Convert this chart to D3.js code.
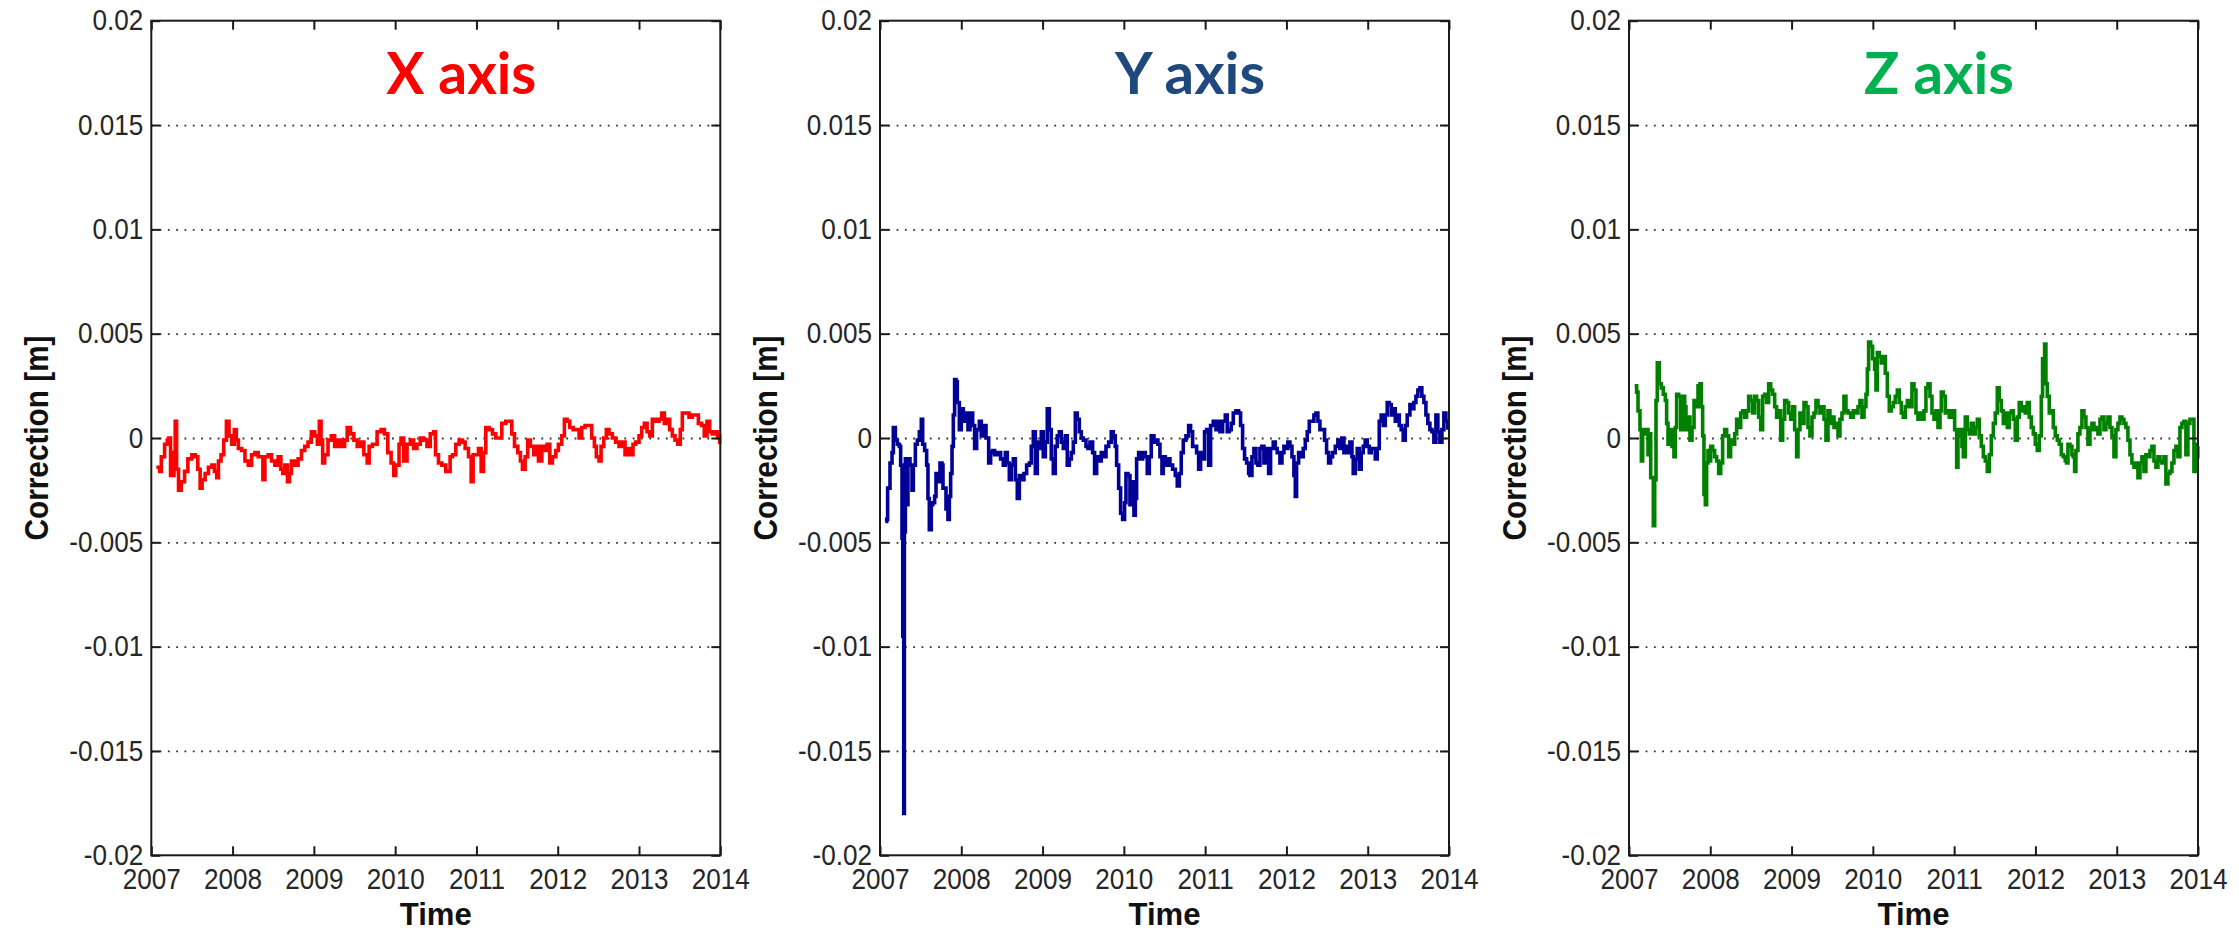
<!DOCTYPE html>
<html>
<head>
<meta charset="utf-8">
<script src="https://cdn.jsdelivr.net/npm/d3@7"></script>
<style>
  body { margin: 0; background: #fff; }
  text { font-family: "Liberation Sans", Arial, sans-serif; }
</style>
</head>
<body>
<svg id="chart" width="2239" height="931"></svg>
<script>
// tick values
const yearTicks = [2007, 2008, 2009, 2010, 2011, 2012, 2013, 2014];
const corrTicks = [-0.02, -0.015, -0.01, -0.005, 0, 0.005, 0.01, 0.015, 0.02];
const panelTitles = ["X axis", "Y axis", "Z axis"];

// [time (decimal year), correction (m)]
const xAxisSeries = [
  [2007.062,-1.4e-3],[2007.103,-1.6e-3],[2007.123,-0.9e-3],[2007.164,-0.3e-3],[2007.196,-0.1e-3],[2007.213,0.0],
  [2007.237,-1.8e-3],[2007.278,-0.7e-3],[2007.294,0.8e-3],[2007.311,-1.5e-3],[2007.335,-2.5e-3],[2007.368,-2.1e-3],
  [2007.409,-1.6e-3],[2007.450,-1.0e-3],[2007.499,-0.8e-3],[2007.540,-0.9e-3],[2007.572,-1.5e-3],[2007.601,-2.4e-3],
  [2007.625,-2.0e-3],[2007.662,-1.7e-3],[2007.703,-1.4e-3],[2007.744,-1.3e-3],[2007.777,-1.6e-3],[2007.805,-1.9e-3],
  [2007.826,-1.1e-3],[2007.858,-0.8e-3],[2007.891,-0.1e-3],[2007.924,0.8e-3],[2007.956,0.1e-3],[2007.989,-0.3e-3],
  [2008.022,0.4e-3],[2008.046,-0.1e-3],[2008.071,-0.5e-3],[2008.111,-0.6e-3],[2008.152,-1.1e-3],[2008.193,-1.3e-3],
  [2008.234,-0.8e-3],[2008.275,-0.7e-3],[2008.316,-0.9e-3],[2008.373,-2.0e-3],[2008.397,-0.9e-3],[2008.438,-0.8e-3],
  [2008.479,-1.1e-3],[2008.520,-1.3e-3],[2008.561,-0.9e-3],[2008.594,-1.5e-3],[2008.618,-1.7e-3],[2008.643,-1.3e-3],
  [2008.675,-2.1e-3],[2008.700,-1.7e-3],[2008.724,-1.1e-3],[2008.765,-1.3e-3],[2008.806,-1.0e-3],[2008.847,-0.6e-3],
  [2008.888,-0.4e-3],[2008.928,-0.2e-3],[2008.969,0.3e-3],[2009.010,0.1e-3],[2009.043,-0.3e-3],[2009.067,0.8e-3],
  [2009.088,-0.1e-3],[2009.108,-1.2e-3],[2009.133,-0.8e-3],[2009.174,-0.1e-3],[2009.214,0.1e-3],[2009.255,-0.4e-3],
  [2009.296,-0.1e-3],[2009.337,-0.4e-3],[2009.378,-0.1e-3],[2009.410,0.5e-3],[2009.451,0.2e-3],[2009.492,-0.1e-3],
  [2009.533,-0.4e-3],[2009.574,-0.2e-3],[2009.615,-0.8e-3],[2009.656,-1.2e-3],[2009.680,-0.4e-3],[2009.721,-0.3e-3],
  [2009.778,0.3e-3],[2009.827,0.4e-3],[2009.868,0.2e-3],[2009.909,-0.7e-3],[2009.950,-1.2e-3],[2009.982,-1.8e-3],
  [2010.007,-1.3e-3],[2010.048,-0.3e-3],[2010.072,0.0],[2010.105,-1.1e-3],[2010.146,-0.3e-3],[2010.187,-0.1e-3],
  [2010.227,-0.5e-3],[2010.268,-0.3e-3],[2010.309,0.0],[2010.350,-0.1e-3],[2010.391,-0.4e-3],[2010.432,0.2e-3],
  [2010.472,0.3e-3],[2010.497,-0.8e-3],[2010.533,-1.2e-3],[2010.574,-1.3e-3],[2010.623,-1.6e-3],[2010.656,-1.6e-3],
  [2010.676,-0.9e-3],[2010.705,-0.8e-3],[2010.746,-0.3e-3],[2010.787,-0.1e-3],[2010.828,-0.2e-3],[2010.861,-0.5e-3],
  [2010.902,-0.9e-3],[2010.935,-2.1e-3],[2010.959,-0.8e-3],[2010.992,-0.8e-3],[2011.025,-0.5e-3],[2011.058,-1.6e-3],
  [2011.086,-0.7e-3],[2011.115,0.5e-3],[2011.156,0.4e-3],[2011.197,0.2e-3],[2011.238,0.0],[2011.271,0.0],
  [2011.312,0.7e-3],[2011.361,0.8e-3],[2011.410,0.8e-3],[2011.435,0.2e-3],[2011.468,-0.4e-3],[2011.509,-0.7e-3],
  [2011.541,-1.1e-3],[2011.566,-1.5e-3],[2011.599,-0.9e-3],[2011.631,-0.1e-3],[2011.664,-0.4e-3],[2011.705,-0.8e-3],
  [2011.738,-0.4e-3],[2011.763,-1.1e-3],[2011.804,-0.4e-3],[2011.844,-0.6e-3],[2011.869,-0.3e-3],[2011.902,-1.2e-3],
  [2011.935,-0.9e-3],[2011.976,-0.6e-3],[2012.008,-0.3e-3],[2012.049,0.1e-3],[2012.082,0.9e-3],[2012.115,0.8e-3],
  [2012.148,0.5e-3],[2012.189,0.4e-3],[2012.230,0.4e-3],[2012.263,0.0],[2012.295,0.5e-3],[2012.336,0.6e-3],
  [2012.377,0.6e-3],[2012.418,0.0],[2012.451,-0.4e-3],[2012.475,-0.9e-3],[2012.508,-1.1e-3],[2012.533,-0.4e-3],
  [2012.566,0.0],[2012.598,0.4e-3],[2012.631,0.2e-3],[2012.672,0.0],[2012.713,-0.2e-3],[2012.754,-0.4e-3],
  [2012.795,-0.2e-3],[2012.828,-0.8e-3],[2012.861,-0.5e-3],[2012.894,-0.8e-3],[2012.926,-0.3e-3],[2012.959,-0.2e-3],
  [2013.000,0.1e-3],[2013.033,0.5e-3],[2013.066,0.7e-3],[2013.099,0.3e-3],[2013.132,0.1e-3],[2013.164,0.9e-3],
  [2013.205,0.8e-3],[2013.246,0.9e-3],[2013.279,1.2e-3],[2013.312,0.7e-3],[2013.344,0.9e-3],[2013.377,0.4e-3],
  [2013.410,0.1e-3],[2013.443,-0.1e-3],[2013.476,-0.3e-3],[2013.508,0.4e-3],[2013.533,1.2e-3],[2013.574,1.2e-3],
  [2013.615,1.0e-3],[2013.656,1.1e-3],[2013.697,1.1e-3],[2013.730,0.7e-3],[2013.770,0.6e-3],[2013.803,0.1e-3],
  [2013.836,0.8e-3],[2013.869,0.3e-3],[2013.902,0.2e-3],[2013.934,0.3e-3],[2013.967,0.1e-3],[2013.992,-0.3e-3]
];

const yAxisSeries = [
  [2007.066,-4.0e-3],[2007.082,-3.9e-3],[2007.094,-2.4e-3],[2007.123,-1.2e-3],[2007.148,-0.7e-3],[2007.164,0.5e-3],
  [2007.189,-0.1e-3],[2007.213,-0.3e-3],[2007.238,-0.4e-3],[2007.254,-1.3e-3],[2007.271,-4.8e-3],[2007.280,-9.5e-3],
  [2007.292,-18.0e-3],[2007.300,-4.5e-3],[2007.312,-1.0e-3],[2007.328,-3.2e-3],[2007.344,-1.0e-3],[2007.369,-1.3e-3],
  [2007.394,-2.5e-3],[2007.410,-1.3e-3],[2007.435,-0.3e-3],[2007.459,-0.1e-3],[2007.484,0.3e-3],[2007.508,0.9e-3],
  [2007.525,-0.3e-3],[2007.549,-0.6e-3],[2007.574,-1.3e-3],[2007.590,-2.9e-3],[2007.607,-4.4e-3],[2007.631,-3.2e-3],
  [2007.648,-3.1e-3],[2007.672,-2.8e-3],[2007.689,-1.7e-3],[2007.713,-2.1e-3],[2007.738,-1.2e-3],[2007.763,-1.3e-3],
  [2007.775,-2.4e-3],[2007.812,-3.4e-3],[2007.836,-3.9e-3],[2007.853,-2.8e-3],[2007.869,-1.7e-3],[2007.886,-0.4e-3],
  [2007.902,1.1e-3],[2007.918,2.8e-3],[2007.935,2.7e-3],[2007.951,1.7e-3],[2007.976,0.4e-3],[2008.000,1.4e-3],
  [2008.025,0.8e-3],[2008.058,1.2e-3],[2008.082,0.4e-3],[2008.107,1.2e-3],[2008.140,0.6e-3],[2008.164,-0.5e-3],
  [2008.189,0.4e-3],[2008.222,0.8e-3],[2008.246,0.1e-3],[2008.271,0.6e-3],[2008.304,0.0],[2008.337,-1.2e-3],
  [2008.361,-0.7e-3],[2008.386,-0.6e-3],[2008.410,-0.8e-3],[2008.451,-0.7e-3],[2008.484,-1.0e-3],[2008.517,-1.3e-3],
  [2008.542,-0.7e-3],[2008.566,-1.2e-3],[2008.591,-2.0e-3],[2008.615,-1.3e-3],[2008.640,-1.0e-3],[2008.665,-2.0e-3],
  [2008.689,-2.9e-3],[2008.714,-1.8e-3],[2008.738,-2.0e-3],[2008.771,-1.7e-3],[2008.804,-1.3e-3],[2008.837,-1.2e-3],
  [2008.861,-0.4e-3],[2008.886,0.3e-3],[2008.911,-1.7e-3],[2008.935,-0.2e-3],[2008.960,-0.5e-3],[2008.984,0.3e-3],
  [2009.009,-0.9e-3],[2009.034,-0.2e-3],[2009.058,1.4e-3],[2009.083,0.4e-3],[2009.107,-1.0e-3],[2009.132,-1.7e-3],
  [2009.156,-0.4e-3],[2009.181,0.1e-3],[2009.206,0.3e-3],[2009.230,-0.2e-3],[2009.255,-0.5e-3],[2009.280,0.1e-3],
  [2009.304,-1.3e-3],[2009.329,-1.0e-3],[2009.353,-0.7e-3],[2009.378,-0.2e-3],[2009.403,1.2e-3],[2009.427,0.9e-3],
  [2009.452,0.3e-3],[2009.476,0.0],[2009.501,-0.1e-3],[2009.534,-0.4e-3],[2009.558,-0.5e-3],[2009.583,-0.2e-3],
  [2009.616,-0.7e-3],[2009.640,-1.7e-3],[2009.665,-0.9e-3],[2009.690,-1.1e-3],[2009.722,-0.7e-3],[2009.755,-0.9e-3],
  [2009.780,-0.4e-3],[2009.813,-0.2e-3],[2009.845,0.3e-3],[2009.870,0.1e-3],[2009.894,-0.4e-3],[2009.911,-1.3e-3],
  [2009.936,-2.4e-3],[2009.960,-3.6e-3],[2009.985,-3.9e-3],[2010.009,-3.1e-3],[2010.026,-1.7e-3],[2010.050,-1.8e-3],
  [2010.075,-3.2e-3],[2010.100,-2.1e-3],[2010.124,-3.7e-3],[2010.141,-2.9e-3],[2010.157,-1.0e-3],[2010.182,-0.7e-3],
  [2010.206,-1.0e-3],[2010.231,-0.7e-3],[2010.264,-0.9e-3],[2010.288,-1.7e-3],[2010.313,-0.9e-3],[2010.337,0.1e-3],
  [2010.370,-0.2e-3],[2010.395,-0.1e-3],[2010.419,-0.3e-3],[2010.444,-0.9e-3],[2010.469,-1.7e-3],[2010.485,-0.9e-3],
  [2010.510,-1.3e-3],[2010.534,-1.0e-3],[2010.567,-1.3e-3],[2010.600,-1.5e-3],[2010.633,-1.8e-3],[2010.657,-2.3e-3],
  [2010.682,-1.7e-3],[2010.706,-0.7e-3],[2010.731,-0.1e-3],[2010.764,0.1e-3],[2010.797,0.6e-3],[2010.821,0.3e-3],
  [2010.846,-0.4e-3],[2010.870,-0.4e-3],[2010.895,-0.7e-3],[2010.920,-1.5e-3],[2010.944,-0.7e-3],[2010.969,-1.0e-3],
  [2010.993,0.3e-3],[2011.018,0.4e-3],[2011.043,-1.3e-3],[2011.067,0.6e-3],[2011.100,0.8e-3],[2011.133,0.4e-3],
  [2011.157,0.8e-3],[2011.182,0.3e-3],[2011.215,0.8e-3],[2011.248,1.1e-3],[2011.272,0.3e-3],[2011.297,0.4e-3],
  [2011.321,0.7e-3],[2011.346,1.2e-3],[2011.379,1.3e-3],[2011.412,1.2e-3],[2011.436,0.6e-3],[2011.461,-0.5e-3],
  [2011.485,-1.0e-3],[2011.510,-1.2e-3],[2011.535,-1.7e-3],[2011.551,-1.8e-3],[2011.576,-0.9e-3],[2011.600,-0.5e-3],
  [2011.625,-1.2e-3],[2011.649,-1.3e-3],[2011.674,-0.5e-3],[2011.698,-0.4e-3],[2011.723,-1.2e-3],[2011.748,-0.5e-3],
  [2011.781,-1.7e-3],[2011.805,-0.5e-3],[2011.838,-0.2e-3],[2011.863,-0.5e-3],[2011.887,-0.7e-3],[2011.920,-1.2e-3],
  [2011.945,-0.7e-3],[2011.969,-0.4e-3],[2011.994,-0.5e-3],[2012.018,-0.2e-3],[2012.043,-0.4e-3],[2012.068,-0.9e-3],
  [2012.092,-1.8e-3],[2012.109,-2.8e-3],[2012.125,-1.2e-3],[2012.150,-0.7e-3],[2012.182,-0.9e-3],[2012.207,-0.5e-3],
  [2012.232,-0.1e-3],[2012.256,0.3e-3],[2012.281,0.8e-3],[2012.314,0.8e-3],[2012.338,1.1e-3],[2012.363,1.2e-3],
  [2012.387,0.8e-3],[2012.412,0.4e-3],[2012.445,0.4e-3],[2012.469,-0.1e-3],[2012.494,-0.7e-3],[2012.519,-1.2e-3],
  [2012.543,-0.9e-3],[2012.568,-0.7e-3],[2012.601,-0.4e-3],[2012.633,-0.1e-3],[2012.658,-0.5e-3],[2012.682,0.0],
  [2012.707,-0.7e-3],[2012.732,-0.4e-3],[2012.756,-0.7e-3],[2012.781,-0.2e-3],[2012.806,-0.9e-3],[2012.822,-1.7e-3],
  [2012.847,-1.0e-3],[2012.871,-0.5e-3],[2012.896,-1.5e-3],[2012.920,-0.7e-3],[2012.945,-0.4e-3],[2012.969,-0.1e-3],
  [2012.994,-0.4e-3],[2013.019,-0.7e-3],[2013.043,-0.5e-3],[2013.093,-1.0e-3],[2013.117,-0.5e-3],[2013.142,0.8e-3],
  [2013.166,1.1e-3],[2013.191,0.6e-3],[2013.216,1.1e-3],[2013.240,1.7e-3],[2013.265,1.6e-3],[2013.289,1.1e-3],
  [2013.314,1.4e-3],[2013.339,0.8e-3],[2013.363,1.1e-3],[2013.388,0.6e-3],[2013.412,0.4e-3],[2013.437,-0.1e-3],
  [2013.462,0.6e-3],[2013.486,1.1e-3],[2013.519,1.6e-3],[2013.544,1.4e-3],[2013.568,1.7e-3],[2013.593,2.0e-3],
  [2013.617,2.3e-3],[2013.642,2.4e-3],[2013.666,2.0e-3],[2013.691,1.7e-3],[2013.716,1.1e-3],[2013.740,0.7e-3],
  [2013.765,0.4e-3],[2013.790,0.3e-3],[2013.814,-0.2e-3],[2013.839,1.1e-3],[2013.863,0.3e-3],[2013.888,-0.2e-3],
  [2013.913,0.4e-3],[2013.937,1.2e-3],[2013.962,0.8e-3],[2013.986,0.4e-3]
];

const zAxisSeries = [
  [2007.070,2.5e-3],[2007.094,2.2e-3],[2007.111,1.3e-3],[2007.135,0.4e-3],[2007.152,-1.1e-3],[2007.168,0.4e-3],
  [2007.193,0.2e-3],[2007.217,0.4e-3],[2007.234,-0.8e-3],[2007.250,0.2e-3],[2007.267,-1.9e-3],[2007.299,-4.2e-3],
  [2007.316,-2.0e-3],[2007.332,1.8e-3],[2007.348,3.6e-3],[2007.373,2.6e-3],[2007.398,2.4e-3],[2007.422,2.1e-3],
  [2007.447,1.8e-3],[2007.463,0.7e-3],[2007.480,-0.3e-3],[2007.504,0.4e-3],[2007.529,-0.4e-3],[2007.553,-0.9e-3],
  [2007.570,0.5e-3],[2007.586,2.1e-3],[2007.611,2.0e-3],[2007.636,0.4e-3],[2007.660,2.0e-3],[2007.685,1.5e-3],
  [2007.701,0.4e-3],[2007.726,1.0e-3],[2007.750,-0.1e-3],[2007.775,0.5e-3],[2007.800,1.8e-3],[2007.824,1.5e-3],
  [2007.849,2.5e-3],[2007.873,2.6e-3],[2007.890,1.5e-3],[2007.906,0.1e-3],[2007.922,-2.7e-3],[2007.939,-3.2e-3],
  [2007.955,-1.2e-3],[2007.972,-0.6e-3],[2007.988,-1.1e-3],[2008.005,-0.4e-3],[2008.029,-0.6e-3],[2008.054,-0.9e-3],
  [2008.078,-1.1e-3],[2008.103,-1.7e-3],[2008.128,-1.2e-3],[2008.152,0.1e-3],[2008.177,0.4e-3],[2008.201,0.1e-3],
  [2008.226,-0.9e-3],[2008.250,-0.1e-3],[2008.275,-0.3e-3],[2008.300,0.2e-3],[2008.324,0.9e-3],[2008.349,0.5e-3],
  [2008.374,1.2e-3],[2008.398,1.3e-3],[2008.423,1.0e-3],[2008.447,1.3e-3],[2008.472,2.0e-3],[2008.496,1.8e-3],
  [2008.521,1.2e-3],[2008.546,2.0e-3],[2008.570,1.8e-3],[2008.595,1.0e-3],[2008.620,0.4e-3],[2008.644,2.0e-3],
  [2008.669,2.1e-3],[2008.693,1.7e-3],[2008.718,2.6e-3],[2008.743,2.3e-3],[2008.767,2.1e-3],[2008.792,1.5e-3],
  [2008.816,1.0e-3],[2008.841,1.3e-3],[2008.866,-0.1e-3],[2008.890,0.9e-3],[2008.915,1.8e-3],[2008.939,1.7e-3],
  [2008.964,1.2e-3],[2008.989,0.9e-3],[2009.013,1.5e-3],[2009.038,0.4e-3],[2009.062,-0.9e-3],[2009.079,0.4e-3],
  [2009.103,1.2e-3],[2009.128,0.7e-3],[2009.153,1.7e-3],[2009.177,1.5e-3],[2009.202,0.5e-3],[2009.226,0.1e-3],
  [2009.251,1.0e-3],[2009.276,1.2e-3],[2009.300,1.8e-3],[2009.325,1.5e-3],[2009.349,1.2e-3],[2009.374,1.5e-3],
  [2009.399,0.9e-3],[2009.423,-0.1e-3],[2009.448,1.3e-3],[2009.472,0.7e-3],[2009.497,1.0e-3],[2009.522,0.5e-3],
  [2009.546,0.7e-3],[2009.571,0.1e-3],[2009.595,0.9e-3],[2009.620,1.2e-3],[2009.644,2.0e-3],[2009.669,1.3e-3],
  [2009.694,1.2e-3],[2009.727,1.0e-3],[2009.759,1.3e-3],[2009.792,1.2e-3],[2009.817,1.5e-3],[2009.841,1.8e-3],
  [2009.866,1.0e-3],[2009.891,1.5e-3],[2009.915,2.1e-3],[2009.932,3.3e-3],[2009.948,4.6e-3],[2009.973,4.4e-3],
  [2009.997,3.8e-3],[2010.022,3.3e-3],[2010.038,2.3e-3],[2010.055,4.1e-3],[2010.079,3.9e-3],[2010.104,3.6e-3],
  [2010.128,3.9e-3],[2010.153,3.1e-3],[2010.178,2.0e-3],[2010.202,1.3e-3],[2010.227,1.5e-3],[2010.251,1.7e-3],
  [2010.276,2.0e-3],[2010.301,2.3e-3],[2010.325,1.7e-3],[2010.350,1.2e-3],[2010.374,1.0e-3],[2010.399,1.5e-3],
  [2010.424,1.8e-3],[2010.457,1.5e-3],[2010.481,2.6e-3],[2010.506,2.3e-3],[2010.530,1.2e-3],[2010.555,0.9e-3],
  [2010.580,1.2e-3],[2010.604,0.9e-3],[2010.629,1.3e-3],[2010.653,2.4e-3],[2010.678,2.6e-3],[2010.703,2.0e-3],
  [2010.727,1.2e-3],[2010.752,0.9e-3],[2010.776,1.3e-3],[2010.801,0.5e-3],[2010.826,1.3e-3],[2010.842,2.2e-3],
  [2010.867,2.0e-3],[2010.891,1.2e-3],[2010.916,1.3e-3],[2010.940,1.0e-3],[2010.965,1.3e-3],[2011.006,0.4e-3],
  [2011.031,-1.4e-3],[2011.047,0.1e-3],[2011.072,0.4e-3],[2011.096,-0.4e-3],[2011.113,-0.9e-3],[2011.137,1.0e-3],
  [2011.162,0.4e-3],[2011.186,0.2e-3],[2011.211,0.7e-3],[2011.236,0.2e-3],[2011.260,0.5e-3],[2011.285,0.9e-3],
  [2011.309,0.1e-3],[2011.334,-0.4e-3],[2011.359,-0.9e-3],[2011.383,-1.1e-3],[2011.408,-1.6e-3],[2011.432,-0.8e-3],
  [2011.457,0.1e-3],[2011.482,0.7e-3],[2011.506,1.2e-3],[2011.531,2.4e-3],[2011.555,1.8e-3],[2011.580,1.3e-3],
  [2011.605,0.7e-3],[2011.629,1.2e-3],[2011.654,0.5e-3],[2011.678,1.2e-3],[2011.703,1.3e-3],[2011.728,0.9e-3],
  [2011.752,-0.1e-3],[2011.777,1.0e-3],[2011.801,1.7e-3],[2011.826,1.3e-3],[2011.851,1.5e-3],[2011.875,1.2e-3],
  [2011.900,1.7e-3],[2011.924,1.0e-3],[2011.949,0.5e-3],[2011.974,0.2e-3],[2011.998,-0.3e-3],[2012.023,-0.6e-3],
  [2012.047,0.1e-3],[2012.072,2.0e-3],[2012.088,3.8e-3],[2012.113,4.5e-3],[2012.129,2.6e-3],[2012.146,2.0e-3],
  [2012.170,1.2e-3],[2012.195,1.3e-3],[2012.220,0.5e-3],[2012.244,0.1e-3],[2012.269,-0.1e-3],[2012.293,-0.3e-3],
  [2012.318,-0.8e-3],[2012.343,-0.9e-3],[2012.367,-1.1e-3],[2012.384,-1.2e-3],[2012.400,-0.3e-3],[2012.425,-0.4e-3],
  [2012.449,-0.8e-3],[2012.465,-0.9e-3],[2012.482,-1.6e-3],[2012.498,-0.6e-3],[2012.523,0.2e-3],[2012.547,0.5e-3],
  [2012.572,1.3e-3],[2012.597,1.0e-3],[2012.621,0.5e-3],[2012.646,-0.3e-3],[2012.671,0.4e-3],[2012.695,0.7e-3],
  [2012.720,0.4e-3],[2012.744,0.5e-3],[2012.769,0.2e-3],[2012.794,0.9e-3],[2012.818,1.0e-3],[2012.843,0.4e-3],
  [2012.867,0.7e-3],[2012.892,1.0e-3],[2012.917,0.5e-3],[2012.941,0.1e-3],[2012.966,-0.9e-3],[2012.990,0.4e-3],
  [2013.015,0.7e-3],[2013.040,1.0e-3],[2013.064,0.9e-3],[2013.089,0.7e-3],[2013.113,0.5e-3],[2013.138,-0.1e-3],
  [2013.163,-0.8e-3],[2013.187,-1.2e-3],[2013.212,-1.4e-3],[2013.236,-1.2e-3],[2013.261,-1.9e-3],[2013.286,-1.2e-3],
  [2013.310,-0.9e-3],[2013.335,-1.6e-3],[2013.359,-0.8e-3],[2013.384,-0.9e-3],[2013.409,-0.6e-3],[2013.433,-0.4e-3],
  [2013.458,-1.1e-3],[2013.482,-1.4e-3],[2013.507,-0.9e-3],[2013.532,-1.1e-3],[2013.556,-1.2e-3],[2013.581,-0.9e-3],
  [2013.605,-2.2e-3],[2013.630,-1.7e-3],[2013.655,-1.6e-3],[2013.679,-1.2e-3],[2013.704,-0.6e-3],[2013.728,-0.4e-3],
  [2013.753,-0.9e-3],[2013.778,0.5e-3],[2013.802,0.7e-3],[2013.827,0.8e-3],[2013.851,-0.8e-3],[2013.876,0.7e-3],
  [2013.901,0.9e-3],[2013.925,0.9e-3],[2013.950,-1.6e-3],[2013.966,-0.3e-3],[2013.982,-0.9e-3],[2013.998,-0.4e-3]
];

const panels = [
  { title: panelTitles[0], titleColor: "#ff0000", lineColor: "#ff0000", data: xAxisSeries, left: 151.3 },
  { title: panelTitles[1], titleColor: "#1f497d", lineColor: "#000096", data: yAxisSeries, left: 880 },
  { title: panelTitles[2], titleColor: "#00b050", lineColor: "#008000", data: zAxisSeries, left: 1629 }
];

const plotW = 569, plotTop = 20.7, plotBottom = 855.3;
const squeeze = 0.9; // tick labels look narrower than Arial

const svg = d3.select("#chart");
svg.append("rect").attr("width", 2239).attr("height", 931).attr("fill", "#fff");

const fmt = d => String(+d.toFixed(4));

panels.forEach(p => {
  const x = d3.scaleLinear().domain([2007, 2014]).range([p.left, p.left + plotW]);
  const y = d3.scaleLinear().domain([-0.02, 0.02]).range([plotBottom, plotTop]);
  const g = svg.append("g");

  // dotted grid lines
  g.append("g")
    .attr("transform", `translate(${p.left},0)`)
    .call(d3.axisLeft(y).tickValues(corrTicks.slice(1, -1)).tickSize(-plotW).tickFormat(""))
    .call(a => a.select(".domain").remove())
    .selectAll("line")
    .attr("stroke", "#333")
    .attr("stroke-width", 1.8)
    .attr("stroke-dasharray", "1.8 6.5");

  // the series
  const line = d3.line()
    .x(d => x(d[0]))
    .y(d => y(d[1]))
    .curve(d3.curveStepAfter);

  g.append("path")
    .datum(p.data)
    .attr("fill", "none")
    .attr("stroke", p.lineColor)
    .attr("stroke-width", 3.6)
    .attr("d", line);

  // box
  g.append("rect")
    .attr("x", p.left).attr("y", plotTop)
    .attr("width", plotW).attr("height", plotBottom - plotTop)
    .attr("fill", "none")
    .attr("stroke", "#1a1a1a")
    .attr("stroke-width", 2);

  // left axis with labels
  const yAx = g.append("g")
    .attr("transform", `translate(${p.left},0)`)
    .call(d3.axisLeft(y).tickValues(corrTicks).tickSize(-9).tickPadding(8).tickSizeOuter(0).tickFormat(fmt));
  yAx.select(".domain").remove();
  yAx.selectAll("line").attr("stroke", "#1a1a1a").attr("stroke-width", 2);
  yAx.selectAll("text")
    .attr("font-size", 29)
    .attr("fill", "#262626")
    .attr("x", -8 / squeeze)
    .attr("transform", `scale(${squeeze},1)`);

  // right ticks
  const yR = g.append("g")
    .attr("transform", `translate(${p.left + plotW},0)`)
    .call(d3.axisRight(y).tickValues(corrTicks).tickSize(-9).tickSizeOuter(0).tickFormat(""));
  yR.select(".domain").remove();
  yR.selectAll("line").attr("stroke", "#1a1a1a").attr("stroke-width", 2);

  // bottom axis with labels
  const xAx = g.append("g")
    .attr("transform", `translate(0,${plotBottom})`)
    .call(d3.axisBottom(x).tickValues(yearTicks).tickSize(-9).tickPadding(13).tickSizeOuter(0).tickFormat(d3.format("d")));
  xAx.select(".domain").remove();
  xAx.selectAll("line").attr("stroke", "#1a1a1a").attr("stroke-width", 2);
  xAx.selectAll("text")
    .attr("font-size", 29)
    .attr("fill", "#262626")
    .attr("transform", `scale(${squeeze},1)`);

  // top ticks
  const xT = g.append("g")
    .attr("transform", `translate(0,${plotTop})`)
    .call(d3.axisTop(x).tickValues(yearTicks).tickSize(-9).tickSizeOuter(0).tickFormat(""));
  xT.select(".domain").remove();
  xT.selectAll("line").attr("stroke", "#1a1a1a").attr("stroke-width", 2);

  // axis titles
  g.append("text")
    .attr("x", p.left + plotW / 2)
    .attr("y", 925)
    .attr("text-anchor", "middle")
    .attr("font-size", 32)
    .attr("font-weight", "bold")
    .attr("fill", "#111")
    .attr("textLength", 72)
    .attr("lengthAdjust", "spacingAndGlyphs")
    .text("Time");

  const cy = (plotTop + plotBottom) / 2;
  g.append("text")
    .attr("transform", `translate(${p.left - 115},${cy}) rotate(-90)`)
    .attr("text-anchor", "middle")
    .attr("dy", "0.36em")
    .attr("font-size", 33)
    .attr("font-weight", "bold")
    .attr("fill", "#111")
    .attr("textLength", 205)
    .attr("lengthAdjust", "spacingAndGlyphs")
    .text("Correction [m]");

  // panel heading
  g.append("text")
    .attr("x", p.left + 310)
    .attr("y", 94)
    .attr("text-anchor", "middle")
    .attr("font-weight", "bold")
    .attr("font-size", 58)
    .attr("fill", p.titleColor)
    .attr("textLength", 150)
    .attr("lengthAdjust", "spacingAndGlyphs")
    .style("font-family", "Lato, 'Open Sans', sans-serif")
    .text(p.title);
});
</script>
</body>
</html>
